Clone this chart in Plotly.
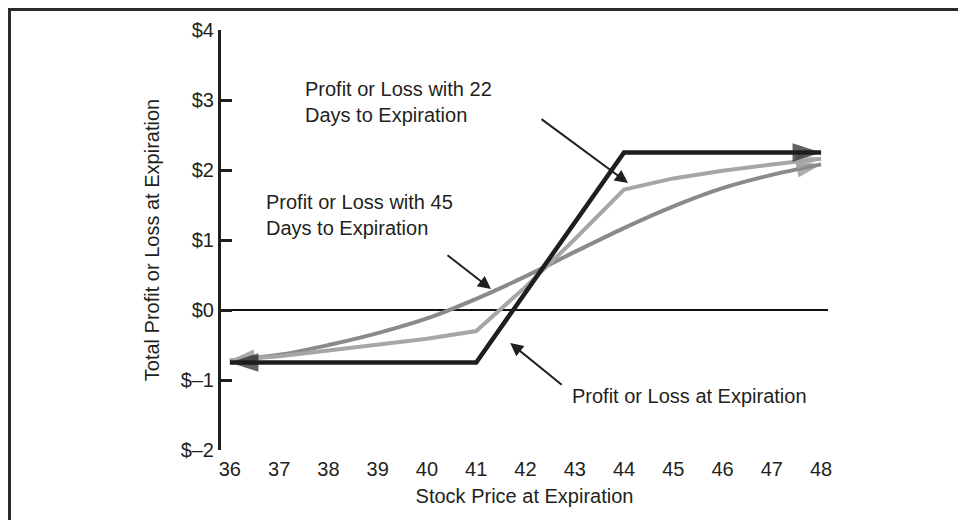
import plotly.graph_objects as go

# ---- data ----
stock_price = [36, 37, 38, 39, 40, 41, 42, 43, 44, 45, 46, 47, 48]
pl_expiration_x = [36, 41, 44, 48]
pl_expiration_y = [-0.75, -0.75, 2.25, 2.25]
pl_22_days = [-0.72, -0.66, -0.58, -0.50, -0.41, -0.30, 0.33, 1.01, 1.72, 1.88, 1.99, 2.08, 2.16]
pl_45_days = [-0.72, -0.64, -0.50, -0.33, -0.12, 0.16, 0.48, 0.83, 1.17, 1.48, 1.74, 1.93, 2.08]
y_tick_vals = [-2, -1, 0, 1, 2, 3, 4]
y_tick_text = ["$\u20132", "$\u20131", "$0", "$1", "$2", "$3", "$4"]
x_tick_vals = stock_price

FONT = "Liberation Sans, Arial, Helvetica, sans-serif"
TXT = "#231f20"
BLACK = "#1e1e1e"
LIGHT = "#a6a6a6"
DARK = "#8a8a8a"

# plot area in figure pixels
L, T, PW, PH = 213, 22, 607, 420
W, H = 966, 520

fig = go.Figure()

series = [
    (stock_price, pl_45_days, DARK, 4, 26, "spline"),
    (stock_price, pl_22_days, LIGHT, 4, 26, "linear"),
    (pl_expiration_x, pl_expiration_y, BLACK, 4.5, 30, "linear"),
]
for xs, ys, col, w, s, shp in series:
    fig.add_trace(go.Scatter(x=xs, y=ys, mode="lines",
                             line=dict(color=col, width=w, backoff=12, shape=shp),
                             hoverinfo="skip", showlegend=False))
    # arrowheads at both ends
    fig.add_trace(go.Scatter(x=[xs[1], xs[0]], y=[ys[1], ys[0]], mode="markers",
                             marker=dict(symbol="arrow", angleref="previous", size=[0, s],
                                         color=col, line=dict(width=0)),
                             hoverinfo="skip", showlegend=False))
    fig.add_trace(go.Scatter(x=[xs[-2], xs[-1]], y=[ys[-2], ys[-1]], mode="markers",
                             marker=dict(symbol="arrow", angleref="previous", size=[0, s],
                                         color=col, line=dict(width=0)),
                             hoverinfo="skip", showlegend=False))

annos = []
labels = [
    (37.485, 2.971, "Profit or Loss with 22<br>Days to Expiration"),
    (36.693, 1.364, "Profit or Loss with 45<br>Days to Expiration"),
    (42.906, -1.229, "Profit or Loss at Expiration"),
]
for x, y, t in labels:
    annos.append(dict(x=x, y=y, xref="x", yref="y", text=t, showarrow=False,
                      xanchor="left", yanchor="middle", align="left",
                      font=dict(family=FONT, size=20, color=TXT)))
pointers = [
    (44.08, 1.814, -88, -65),
    (41.30, 0.30, -45, -35),
    (41.69, -0.471, 53, 43),
]
for x, y, ax, ay in pointers:
    annos.append(dict(x=x, y=y, xref="x", yref="y", ax=ax, ay=ay, text="",
                      showarrow=True, arrowhead=2, arrowsize=1.3, arrowwidth=2,
                      arrowcolor=TXT, standoff=0))

fig.update_layout(
    width=W, height=H,
    margin=dict(l=L, r=W - L - PW, t=T, b=H - T - PH, autoexpand=False),
    paper_bgcolor="white", plot_bgcolor="white",
    font=dict(family=FONT, size=20, color=TXT),
    annotations=annos,
    shapes=[dict(type="rect", xref="paper", yref="paper",
                 x0=(1.5 - L) / PW, x1=(W + 20 - L) / PW,
                 y0=-(H + 20 - T - PH) / PH, y1=1 + (T - 1.5) / PH,
                 line=dict(color="#2a2a2a", width=3), layer="above")],
    xaxis=dict(range=[35.82, 48.14], tickvals=x_tick_vals, ticktext=[str(v) for v in x_tick_vals],
               showgrid=False, zeroline=False, showline=False, automargin=False,
               ticks="outside", ticklen=1, tickcolor="rgba(0,0,0,0)",
               tickfont=dict(size=20, family=FONT, color=TXT),
               title=dict(text="Stock Price at Expiration", standoff=9,
                          font=dict(size=20, family=FONT, color=TXT))),
    yaxis=dict(range=[-2, 4], tickvals=y_tick_vals, ticktext=y_tick_text,
               showgrid=False, zeroline=True, zerolinecolor="#111", zerolinewidth=1.5,
               showline=True, linecolor=BLACK, linewidth=3, automargin=False,
               ticks="inside", ticklen=11, tickwidth=3, tickcolor=BLACK,
               tickfont=dict(size=20, family=FONT, color=TXT),
               title=dict(text="Total Profit or Loss at Expiration", standoff=16,
                          font=dict(size=20, family=FONT, color=TXT))),
)

fig.write_html("out.html")
